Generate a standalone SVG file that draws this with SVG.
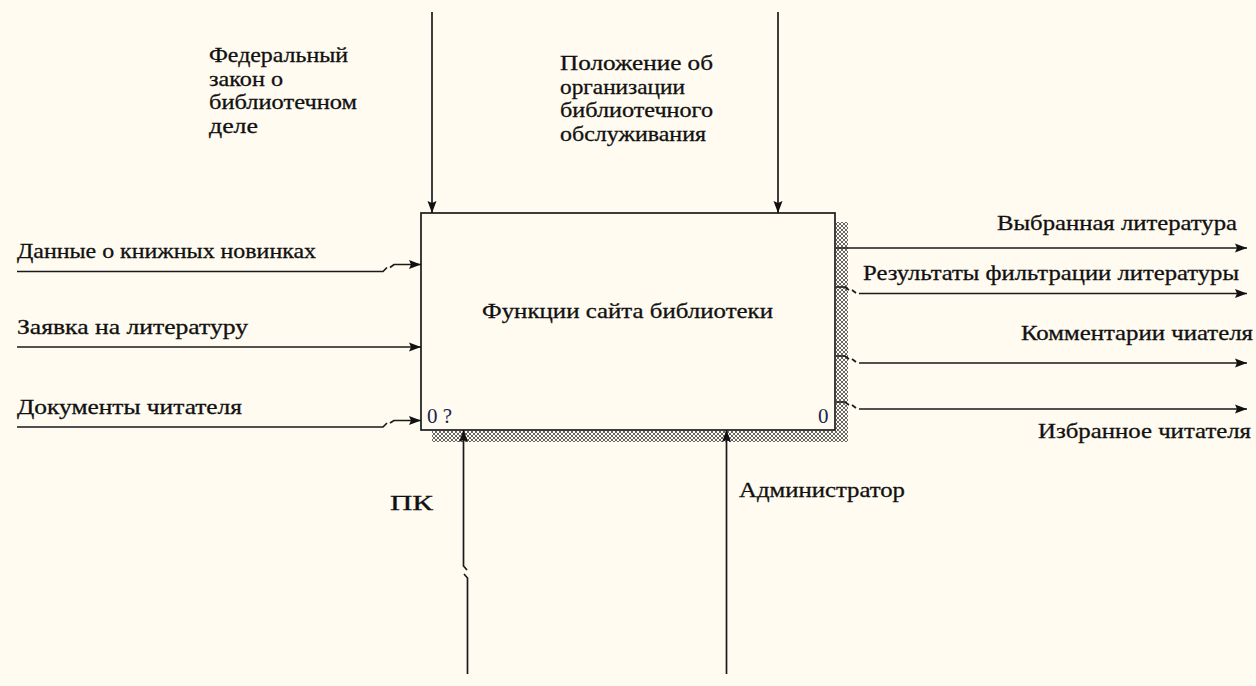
<svg xmlns="http://www.w3.org/2000/svg" width="1256" height="686" viewBox="0 0 1256 686">
<defs>
<marker id="ah" viewBox="0 0 12 10" refX="12" refY="5" markerWidth="12" markerHeight="10" markerUnits="userSpaceOnUse" orient="auto"><path d="M0,0.5 L12,5 L0,9.5 L2,5 Z" fill="#111"/></marker>
<pattern id="hatch" width="4" height="4" patternUnits="userSpaceOnUse"><rect width="4" height="4" fill="#fffbf0"/><path d="M0,0 L4,4 M4,0 L0,4" stroke="#555" stroke-width="0.9"/></pattern>
</defs>
<style>
.t{font-family:"Liberation Serif","DejaVu Serif","Times New Roman",serif;font-size:21px;fill:#111;stroke:#111;stroke-width:0.3}
.n{font-family:"Liberation Serif","DejaVu Serif","Times New Roman",serif;font-size:21px;fill:#1c2450}
.c{fill:none;stroke:#1a1a1a;stroke-width:1.7}
.a{marker-end:url(#ah)}
</style>
<rect width="1256" height="686" fill="#fffbf0"/>
<g id="node-main">
<rect x="836" y="222" width="12" height="220" fill="url(#hatch)"/>
<rect x="432" y="431" width="416" height="11" fill="url(#hatch)"/>
<rect x="421" y="213" width="414" height="217" fill="#fffbf0" stroke="#1a1a1a" stroke-width="1.7"/>
<text class="t" x="482" y="318" textLength="291" lengthAdjust="spacingAndGlyphs">Функции сайта библиотеки</text>
<text class="n" x="427" y="423">0 ?</text>
<text class="n" x="818" y="423">0</text>
</g>
<g id="connectors">
<path class="c a" d="M17,271.5 H383 L387,267.5 M390,267.5 L394,264.5 H421"/>
<path class="c a" d="M17,347 H421"/>
<path class="c a" d="M17,427 H383 L387,423 M390,423 L394,420.5 H421"/>
<path class="c a" d="M432,12 V213"/>
<path class="c a" d="M778,12 V213"/>
<path class="c a" d="M836,248 H1247"/>
<path class="c a" d="M836,287 H845 L849,290 M852,290 L856,293 M859,293.5 H1247"/>
<path class="c a" d="M836,356 H845 L849,359 M852,359 L856,362 M859,363 H1247"/>
<path class="c a" d="M836,402 H845 L849,405 M852,405 L856,408 M859,409 H1247"/>
<path class="c a" d="M467.5,674 V578 L464,574 M467,570 L463.5,566 V430"/>
<path class="c a" d="M726.5,674 V430"/>
</g>
<g id="labels">
<text class="t" x="17" y="258" textLength="299" lengthAdjust="spacingAndGlyphs">Данные о книжных новинках</text>
<text class="t" x="17" y="334" textLength="231" lengthAdjust="spacingAndGlyphs">Заявка на литературу</text>
<text class="t" x="17" y="414" textLength="225" lengthAdjust="spacingAndGlyphs">Документы читателя</text>
<text class="t" x="997" y="230" textLength="240" lengthAdjust="spacingAndGlyphs">Выбранная литература</text>
<text class="t" x="863" y="280" textLength="376" lengthAdjust="spacingAndGlyphs">Результаты фильтрации литературы</text>
<text class="t" x="1021" y="340" textLength="232" lengthAdjust="spacingAndGlyphs">Комментарии чиателя</text>
<text class="t" x="1038" y="438" textLength="213" lengthAdjust="spacingAndGlyphs">Избранное читателя</text>
<text class="t" x="209" y="62" textLength="139" lengthAdjust="spacingAndGlyphs">Федеральный</text>
<text class="t" x="209" y="85.5" textLength="74" lengthAdjust="spacingAndGlyphs">закон о</text>
<text class="t" x="209" y="109" textLength="148" lengthAdjust="spacingAndGlyphs">библиотечном</text>
<text class="t" x="209" y="132.5" textLength="49" lengthAdjust="spacingAndGlyphs">деле</text>
<text class="t" x="560" y="70" textLength="153" lengthAdjust="spacingAndGlyphs">Положение об</text>
<text class="t" x="560" y="93.5" textLength="125" lengthAdjust="spacingAndGlyphs">организации</text>
<text class="t" x="560" y="117" textLength="153" lengthAdjust="spacingAndGlyphs">библиотечного</text>
<text class="t" x="560" y="140.5" textLength="146" lengthAdjust="spacingAndGlyphs">обслуживания</text>
<text class="t" x="390" y="510" textLength="43" lengthAdjust="spacingAndGlyphs">ПК</text>
<text class="t" x="739" y="497" textLength="166" lengthAdjust="spacingAndGlyphs">Администратор</text>
</g>
</svg>
